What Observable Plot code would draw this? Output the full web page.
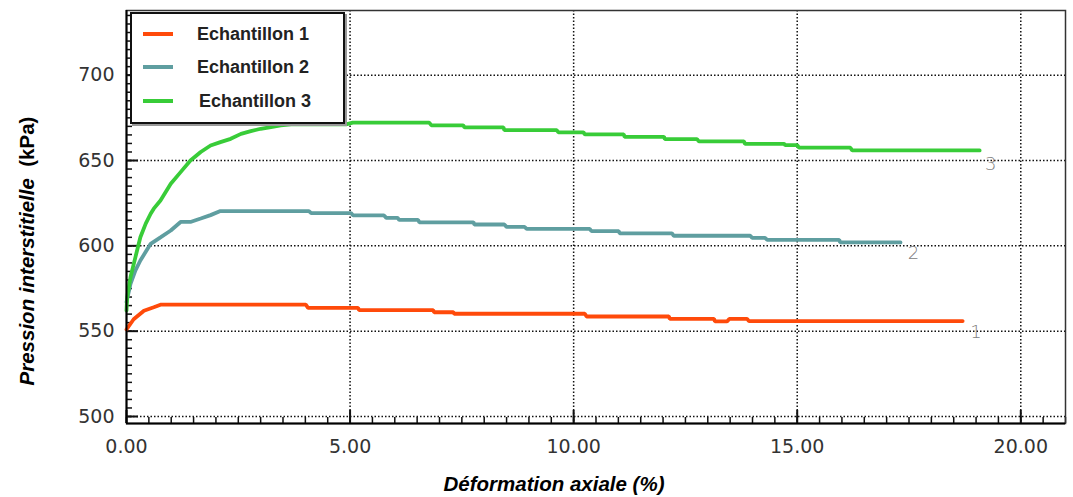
<!DOCTYPE html>
<html>
<head>
<meta charset="utf-8">
<script src="https://cdn.jsdelivr.net/npm/d3@7"></script>
<script src="https://cdn.jsdelivr.net/npm/@observablehq/plot@0.6"></script>
<style>
  html, body { margin: 0; padding: 0; background: #fff; }
  #wrap { position: relative; width: 1073px; height: 497px; }
  #legend {
    position: absolute; left: 130px; top: 12px; width: 211px; height: 108px;
    background: #fff; border: 2px solid #111; box-shadow: 2px 2px 0 #999;
    font-family: "Liberation Sans", Arial, sans-serif; font-weight: bold; font-size: 18px; color: #222;
  }
  .item { position: absolute; left: 0; height: 20px; display: flex; align-items: center; }
  .sw { width: 30px; height: 4px; margin-left: 11px; margin-right: 24px; }
</style>
</head>
<body>
<div id="wrap"></div>
<script>
// ---- data ----
const seriesNames = ["Echantillon 1", "Echantillon 2", "Echantillon 3"];
const seriesColors = ["#ff4a0a", "#5f9ea0", "#38cc38"];
const endLabels = ["1", "2", "3"];

const ech1X = [0, 0.16, 0.39, 0.61, 0.76, 4.01, 4.06, 5.18, 5.2, 6.86, 6.88, 7.31, 7.33, 10.25, 10.29, 12.13, 12.15, 13.14, 13.16, 13.43, 13.48, 13.88, 13.92, 18.7];
const ech1Y = [551, 557, 562, 564, 565.5, 565.5, 563.7, 563.7, 562.3, 562.3, 561.1, 561.1, 560.2, 560.2, 558.6, 558.6, 557.2, 557.2, 555.7, 555.7, 557.2, 557.2, 555.9, 555.9];

const ech2X = [0, 0.09, 0.2, 0.31, 0.54, 0.76, 0.99, 1.21, 1.43, 1.66, 1.88, 2.1, 4.08, 4.13, 5.02, 5.07, 5.76, 5.81, 6.06, 6.1, 6.52, 6.55, 7.76, 7.78, 8.45, 8.5, 8.9, 8.95, 10.36, 10.4, 11.01, 11.03, 12.2, 12.24, 13.95, 13.99, 14.28, 14.33, 15.94, 15.96, 17.31];
const ech2Y = [567, 577.8, 585.6, 591.4, 601.2, 605, 609, 614, 614, 616, 618, 620.4, 620.4, 619.2, 619.2, 617.8, 617.8, 616.4, 616.4, 615.2, 615.2, 613.8, 613.8, 612.5, 612.5, 611.1, 611.1, 609.9, 609.9, 608.6, 608.6, 607.3, 607.3, 605.9, 605.9, 604.7, 604.7, 603.5, 603.5, 602, 602];

const ech3X = [0, 0.015, 0.09, 0.2, 0.31, 0.43, 0.54, 0.61, 0.76, 0.99, 1.21, 1.43, 1.66, 1.88, 2.1, 2.33, 2.56, 2.78, 3.0, 3.23, 3.45, 3.68, 4.91, 5.06, 6.77, 6.82, 7.53, 7.56, 8.43, 8.45, 9.62, 9.66, 10.22, 10.25, 11.12, 11.14, 12.02, 12.04, 12.76, 12.8, 13.81, 13.83, 14.71, 14.73, 15.0, 15.04, 16.19, 16.23, 19.08];
const ech3Y = [562, 570, 581.7, 593.4, 605, 613, 618.8, 621.8, 626.6, 636.4, 643.2, 650, 655, 658.8, 660.8, 662.7, 665.6, 667.2, 668.6, 669.6, 670.6, 671.2, 671.2, 672.2, 672.2, 670.6, 670.6, 669.4, 669.4, 667.8, 667.8, 666.5, 666.5, 665.3, 665.3, 663.9, 663.9, 662.5, 662.5, 661.2, 661.2, 659.8, 659.8, 659, 659, 657.5, 657.5, 655.9, 655.9];

const endLabelX = [19.0, 17.6, 19.33];
const endLabelY = [549.5, 595.5, 648];

const xTicks = [0, 5, 10, 15, 20];
const xGrid = [5, 10, 15, 20];
const yTicks = [500, 550, 600, 650, 700];
const xMinor = d3.range(0, 21.01, 0.5);
const yMinor = d3.range(500, 736, 5);

// ---- build table ----
const allX = [ech1X, ech2X, ech3X], allY = [ech1Y, ech2Y, ech3Y];
const rows = [];
seriesNames.forEach((s, i) => allX[i].forEach((x, j) => rows.push({serie: s, x, y: allY[i][j]})));
const labels = endLabels.map((t, i) => ({t, x: endLabelX[i], y: endLabelY[i]}));

const W = 1073, H = 497, mL = 126, mR = 8, mT = 10, mB = 74;
const plotW = W - mL - mR, plotH = H - mT - mB;

const tickFont = {fontFamily: "DejaVu Sans, sans-serif", fontSize: 19, fill: "#333"};

const chart = Plot.plot({
  width: W, height: H,
  marginLeft: mL, marginRight: mR, marginTop: mT, marginBottom: mB,
  style: {fontFamily: "DejaVu Sans, sans-serif", fontSize: "19px", background: "#fff"},
  x: {domain: [0, 21]},
  y: {domain: [495.9, 737.9]},
  color: {domain: seriesNames, range: seriesColors},
  marks: [
    Plot.gridX(xGrid, {stroke: "#111", strokeOpacity: 1, strokeWidth: 1.5, strokeDasharray: "1.5,2"}),
    Plot.gridY(yTicks, {stroke: "#111", strokeOpacity: 1, strokeWidth: 1.5, strokeDasharray: "1.5,2"}),
    // minor & major ticks pointing inward
    Plot.tickY(yMinor, {y: d => d, insetRight: plotW - 6, stroke: "#111", strokeWidth: 1.5}),
    Plot.tickY(yTicks, {y: d => d, insetRight: plotW - 12, stroke: "#111", strokeWidth: 2}),
    Plot.tickX(xMinor, {x: d => d, insetTop: plotH - 6, stroke: "#111", strokeWidth: 1.5}),
    Plot.tickX(xTicks, {x: d => d, insetTop: plotH - 13, stroke: "#111", strokeWidth: 2}),
    Plot.frame({stroke: "#333", strokeWidth: 1.5}),
    Plot.axisX(xTicks, {tickSize: 0, tickPadding: 16, tickFormat: d3.format(".2f"), label: null, ...tickFont}),
    Plot.axisY(yTicks, {tickSize: 0, tickPadding: 12, label: null, ...tickFont}),
    Plot.line(rows, {x: "x", y: "y", z: "serie", stroke: "serie", strokeWidth: 3.8, strokeLinejoin: "miter"}),
    Plot.text(labels, {x: "x", y: "y", text: "t", fill: "#808080", fontSize: 18, fontFamily: "DejaVu Sans, sans-serif", fontWeight: 300}),
    Plot.ruleX([0], {stroke: "#000", strokeWidth: 2}),
    Plot.ruleY([495.9], {stroke: "#000", strokeWidth: 2})
  ]
});

const wrap = document.getElementById("wrap");
wrap.appendChild(chart);

// axis titles
const svg = d3.select(chart);
svg.append("text")
  .attr("x", 554).attr("y", 491)
  .attr("text-anchor", "middle")
  .attr("font-family", "Liberation Sans, Arial, sans-serif")
  .attr("font-size", 20.5).attr("font-weight", "bold").attr("font-style", "italic")
  .attr("fill", "#000")
  .text("Déformation axiale (%)");
const yt = svg.append("text")
  .attr("transform", "translate(34,251) rotate(-90)")
  .attr("text-anchor", "middle")
  .attr("font-family", "Liberation Sans, Arial, sans-serif")
  .attr("font-size", 20.5).attr("font-weight", "bold")
  .attr("fill", "#000");
yt.append("tspan").attr("font-style", "italic").text("Pression interstitielle");
yt.append("tspan").text("\u00a0\u00a0(kPa)");

// legend
const lg = document.createElement("div");
lg.id = "legend";
const itemTops = [10, 43, 77];
seriesNames.forEach((s, i) => {
  const it = document.createElement("div");
  it.className = "item";
  it.style.top = itemTops[i] + "px";
  const sw = document.createElement("div");
  sw.className = "sw"; sw.style.background = seriesColors[i];
  if (i === 2) sw.style.marginRight = "26px";
  const tx = document.createElement("span");
  tx.textContent = s;
  it.appendChild(sw); it.appendChild(tx);
  lg.appendChild(it);
});
wrap.appendChild(lg);
</script>
</body>
</html>
